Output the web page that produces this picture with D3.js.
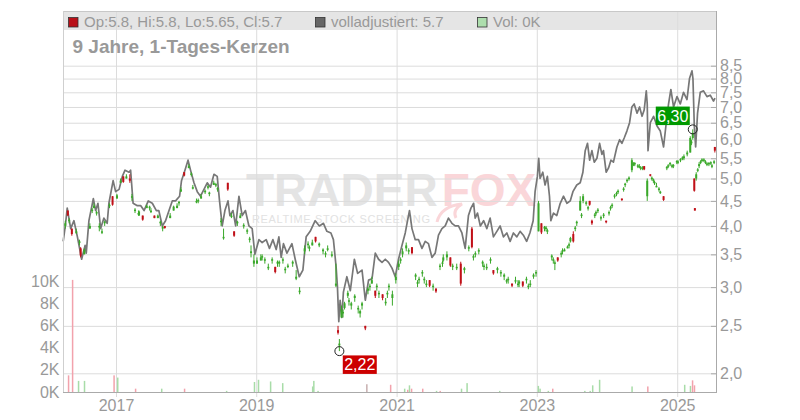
<!DOCTYPE html>
<html><head><meta charset="utf-8">
<script src="https://cdn.jsdelivr.net/npm/d3@7"></script>
<style>
html,body{margin:0;padding:0;background:#fff;}
svg{display:block;font-family:"Liberation Sans",Arial,sans-serif;}
</style></head><body>
<svg id="chart" width="800" height="420"></svg>
<script>
// ---------- DATA ----------
const adjDates = ["2016-04-01","2016-04-12","2016-04-22","2016-05-10","2016-05-27","2016-06-14","2016-07-06","2016-07-24","2016-07-30","2016-08-13","2016-09-05","2016-09-17","2016-09-29","2016-10-13","2016-10-30","2016-11-16","2016-11-25","2016-12-17","2016-12-30","2017-01-17","2017-02-03","2017-02-17","2017-03-10","2017-03-18","2017-03-31","2017-04-22","2017-05-10","2017-05-27","2017-06-18","2017-07-09","2017-07-30","2017-08-12","2017-08-30","2017-09-16","2017-10-04","2017-10-21","2017-11-07","2017-11-28","2017-12-08","2017-12-26","2018-01-11","2018-01-24","2018-02-11","2018-02-28","2018-03-17","2018-04-04","2018-04-21","2018-05-08","2018-05-26","2018-06-12","2018-06-24","2018-07-08","2018-07-22","2018-08-07","2018-08-17","2018-09-02","2018-09-16","2018-10-03","2018-10-20","2018-11-06","2018-11-24","2018-12-11","2018-12-25","2019-01-15","2019-02-01","2019-02-22","2019-03-11","2019-03-29","2019-04-15","2019-04-29","2019-05-11","2019-05-23","2019-06-10","2019-07-06","2019-07-23","2019-08-13","2019-09-01","2019-09-18","2019-10-09","2019-11-04","2019-11-26","2019-12-17","2020-01-04","2020-01-25","2020-02-07","2020-02-21","2020-02-28","2020-03-06","2020-03-13","2020-03-22","2020-03-30","2020-04-17","2020-05-05","2020-05-26","2020-06-12","2020-07-05","2020-07-22","2020-08-08","2020-08-26","2020-09-12","2020-09-29","2020-10-17","2020-11-03","2020-11-20","2020-12-08","2020-12-25","2021-01-11","2021-01-29","2021-02-15","2021-02-27","2021-03-09","2021-03-22","2021-04-08","2021-04-25","2021-05-13","2021-05-30","2021-06-16","2021-07-04","2021-07-21","2021-08-07","2021-08-25","2021-09-11","2021-09-28","2021-10-16","2021-11-02","2021-11-19","2021-12-07","2021-12-24","2022-01-10","2022-01-23","2022-02-06","2022-02-14","2022-02-26","2022-03-13","2022-03-30","2022-04-16","2022-05-03","2022-05-20","2022-06-07","2022-06-24","2022-07-11","2022-07-29","2022-08-15","2022-09-01","2022-09-19","2022-10-06","2022-10-23","2022-11-09","2022-11-26","2022-12-13","2022-12-23","2023-01-04","2023-01-11","2023-01-18","2023-02-01","2023-02-13","2023-02-25","2023-03-08","2023-03-15","2023-03-29","2023-04-15","2023-05-03","2023-05-20","2023-06-07","2023-06-24","2023-07-08","2023-07-28","2023-08-15","2023-08-29","2023-09-10","2023-09-22","2023-10-03","2023-10-15","2023-10-27","2023-11-10","2023-11-24","2023-12-06","2023-12-14","2023-12-28","2024-01-09","2024-01-22","2024-02-04","2024-02-22","2024-03-07","2024-03-19","2024-03-31","2024-04-14","2024-04-28","2024-05-10","2024-05-22","2024-06-06","2024-06-19","2024-07-02","2024-07-13","2024-07-24","2024-07-29","2024-08-02","2024-08-14","2024-08-31","2024-09-18","2024-10-05","2024-10-22","2024-11-05","2024-11-17","2024-11-29","2024-12-13","2024-12-31","2025-01-17","2025-02-03","2025-02-21","2025-03-06","2025-03-19","2025-03-24","2025-03-31","2025-04-07","2025-04-17","2025-05-01","2025-05-18","2025-06-05","2025-06-22","2025-07-09","2025-07-17"];
const adjValues = [3.72,4.0,4.35,3.95,4.1,3.8,3.42,3.65,3.52,4.1,4.55,4.3,4.45,3.95,4.15,4.05,4.45,4.95,4.7,4.75,5.05,5.2,5.15,5.2,4.45,4.4,4.4,4.3,4.5,4.45,4.3,4.3,4.0,4.1,4.3,4.5,4.5,4.6,4.95,5.2,5.45,5.2,4.9,4.7,4.6,4.75,4.9,4.8,5.1,5.05,4.5,4.0,4.3,4.5,4.2,4.3,4.0,4.6,4.2,4.3,4.0,3.95,3.5,3.75,3.7,3.75,3.6,3.75,3.58,3.8,3.45,3.68,3.52,3.68,3.42,3.15,3.25,3.8,3.9,4.1,4.0,4.05,3.9,3.87,3.75,3.3,3.0,2.55,2.82,2.6,2.93,3.15,2.95,3.42,3.2,3.25,2.82,3.1,3.12,3.52,3.42,3.37,3.42,3.37,3.28,3.15,3.42,3.65,3.87,4.1,4.3,3.95,3.75,3.75,3.6,3.72,3.68,3.45,3.52,3.83,3.95,4.0,4.15,4.05,4.0,4.0,3.87,3.6,4.2,4.35,4.45,4.15,4.25,4.0,4.1,3.95,4.15,3.8,3.9,4.0,3.8,3.87,3.72,3.87,3.8,3.9,3.83,3.72,3.87,4.1,4.7,5.05,5.5,5.0,5.15,4.85,5.05,4.6,4.1,4.25,4.2,4.45,4.6,4.45,4.5,4.7,4.85,4.9,5.15,5.7,5.9,5.45,5.7,5.4,5.5,5.9,5.6,5.7,5.15,5.25,5.45,5.4,5.8,6.0,5.9,6.05,6.25,6.5,7.0,7.1,6.8,7.0,6.7,6.9,7.55,7.1,5.7,6.5,6.7,6.4,6.25,5.8,6.5,7.1,7.6,7.0,7.35,7.1,7.5,7.25,8.0,8.3,8.0,6.4,5.8,6.8,7.5,7.55,7.35,7.4,7.2,7.3];

// candles: [date, open, high, low, close]
const candles = [
["2016-04-12",4.0,4.1,3.95,4.05],["2016-04-25",4.3,4.3,4.2,4.2],["2016-05-02",4.1,4.15,4.05,4.12],["2016-05-16",3.95,3.95,3.82,3.85],["2016-06-08",3.88,3.95,3.85,3.9],
["2016-06-25",3.7,3.75,3.65,3.72],["2016-07-01",3.6,3.62,3.45,3.48],["2016-07-20",3.5,3.6,3.5,3.58],["2016-08-18",3.95,4.05,3.95,4.0],["2016-08-30",4.3,4.35,4.25,4.32],["2016-09-08",4.35,4.45,4.35,4.4],
["2016-09-22",4.25,4.3,4.2,4.27],["2016-10-06",3.98,4.05,3.9,4.0],["2016-10-20",3.88,3.95,3.85,3.9],["2016-11-03",4.05,4.1,4.0,4.08],["2016-11-28",4.4,4.45,4.35,4.42],
["2016-12-14",4.6,4.6,4.4,4.42],["2017-01-06",4.55,4.65,4.55,4.62],["2017-01-25",4.9,5.0,4.9,4.95],["2017-02-08",5.05,5.05,4.9,4.92],["2017-02-24",5.0,5.1,5.0,5.05],
["2017-03-14",5.0,5.1,4.9,4.95],["2017-03-25",4.6,4.65,4.5,4.6],["2017-04-10",4.3,4.35,4.25,4.32],["2017-04-28",4.25,4.3,4.2,4.25],["2017-05-01",4.2,4.3,4.2,4.28],["2017-05-20",4.2,4.2,4.1,4.12],
["2017-06-10",4.35,4.42,4.35,4.4],["2017-06-25",4.35,4.4,4.3,4.38],["2017-07-02",4.28,4.35,4.25,4.3],["2017-07-20",4.2,4.2,4.15,4.15],["2017-08-07",4.15,4.22,4.15,4.2],["2017-08-20",4.05,4.1,4.0,4.08],
["2017-09-01",3.95,4.0,3.9,3.98],["2017-09-12",4.0,4.0,3.95,3.96],["2017-10-10",4.15,4.25,4.15,4.2],["2017-10-28",4.3,4.4,4.3,4.38],
["2017-11-15",4.35,4.45,4.35,4.4],["2017-11-25",4.45,4.5,4.4,4.48],["2017-12-05",4.7,4.8,4.7,4.75],["2017-12-22",5.15,5.15,5.05,5.07],["2018-01-15",5.25,5.35,5.25,5.3],["2018-01-28",5.1,5.15,5.05,5.12],
["2018-02-05",4.78,4.85,4.75,4.8],["2018-02-24",4.48,4.55,4.45,4.5],["2018-03-05",4.5,4.55,4.45,4.52],["2018-03-20",4.55,4.65,4.55,4.6],["2018-04-10",4.7,4.75,4.65,4.72],["2018-04-25",4.8,4.85,4.75,4.82],
["2018-05-02",4.65,4.7,4.6,4.68],["2018-05-25",4.85,4.95,4.85,4.9],["2018-06-05",4.85,4.9,4.8,4.87],["2018-06-14",4.75,4.8,4.7,4.78],["2018-07-02",4.08,4.15,4.0,4.1],
["2018-07-15",3.78,3.95,3.75,3.8],["2018-08-06",4.9,4.9,4.72,4.75],["2018-08-25",4.18,4.25,4.15,4.2],["2018-09-08",3.9,3.9,3.8,3.82],
["2018-09-25",4.05,4.1,4.0,4.08],["2018-10-10",4.15,4.25,4.15,4.2],["2018-10-28",4.0,4.05,3.95,4.02],["2018-11-15",3.9,3.95,3.85,3.92],["2018-11-28",3.75,3.8,3.7,3.77],
["2018-12-05",3.52,3.65,3.45,3.55],["2018-12-20",3.35,3.5,3.3,3.4],["2019-01-05",3.35,3.45,3.35,3.4],["2019-01-25",3.4,3.5,3.4,3.45],["2019-02-01",3.45,3.5,3.4,3.47],
["2019-02-15",3.4,3.45,3.35,3.42],["2019-03-05",3.28,3.35,3.25,3.3],["2019-03-25",3.4,3.45,3.35,3.42],["2019-04-10",3.3,3.3,3.2,3.22],["2019-04-22",3.35,3.4,3.3,3.38],
["2019-05-01",3.35,3.4,3.3,3.38],["2019-05-20",3.4,3.45,3.35,3.42],["2019-06-01",3.25,3.3,3.2,3.27],["2019-06-15",3.3,3.35,3.28,3.32],["2019-07-10",3.35,3.4,3.3,3.38],
["2019-07-28",3.12,3.25,3.1,3.15],["2019-08-15",2.93,3.0,2.9,2.95],["2019-09-10",3.55,3.65,3.5,3.6],["2019-09-28",3.66,3.72,3.6,3.68],["2019-10-05",3.6,3.65,3.55,3.62],
["2019-10-20",3.65,3.75,3.65,3.7],["2019-11-06",3.8,3.8,3.7,3.72],["2019-11-25",3.65,3.7,3.62,3.68],["2019-12-15",3.55,3.6,3.5,3.58],["2019-12-28",3.5,3.55,3.45,3.52],
["2020-01-08",3.58,3.65,3.55,3.6],["2020-01-30",3.48,3.55,3.45,3.5],["2020-02-20",3.02,3.35,3.0,3.05],["2020-03-02",2.45,2.5,2.4,2.42],
["2020-03-09",2.28,2.35,2.22,2.3],["2020-03-20",2.6,2.75,2.6,2.7],["2020-03-28",2.65,2.7,2.6,2.67],["2020-04-05",2.72,2.8,2.7,2.78],["2020-04-22",2.88,2.95,2.85,2.92],["2020-04-28",2.8,2.85,2.75,2.82],
["2020-05-10",2.75,2.8,2.7,2.78],["2020-05-28",2.85,2.9,2.8,2.88],["2020-06-15",2.7,2.75,2.65,2.72],["2020-06-25",2.65,2.7,2.6,2.68],["2020-07-05",2.75,2.8,2.7,2.78],
["2020-07-22",2.5,2.5,2.45,2.47],["2020-08-05",2.95,3.0,2.9,2.98],["2020-08-15",3.0,3.05,2.95,3.02],["2020-08-25",3.05,3.15,3.05,3.1],["2020-09-12",2.95,2.95,2.85,2.88],["2020-09-20",3.0,3.05,2.95,3.02],
["2020-10-01",2.9,2.95,2.85,2.92],["2020-10-20",2.9,2.9,2.82,2.85],["2020-11-05",2.78,2.85,2.75,2.8],["2020-11-14",2.9,2.95,2.85,2.92],["2020-11-22",3.0,3.05,2.95,3.02],
["2020-12-10",2.85,2.95,2.75,2.9],["2020-12-28",3.1,3.2,3.05,3.15],["2021-01-12",3.3,3.4,3.25,3.35],["2021-01-22",3.4,3.45,3.35,3.42],["2021-02-01",3.5,3.6,3.45,3.55],
["2021-02-20",3.6,3.7,3.55,3.65],["2021-03-05",3.55,3.6,3.5,3.57],["2021-03-22",3.62,3.62,3.5,3.52],["2021-04-10",3.15,3.2,3.1,3.18],["2021-04-20",3.05,3.1,3.0,3.07],["2021-04-28",3.1,3.15,3.05,3.12],
["2021-05-15",3.2,3.25,3.15,3.22],["2021-05-25",3.1,3.15,3.05,3.12],["2021-06-05",3.03,3.1,3.0,3.05],["2021-06-22",3.1,3.1,3.0,3.02],["2021-07-10",3.0,3.05,2.95,3.02],
["2021-07-25",2.98,2.98,2.92,2.94],["2021-08-15",3.3,3.35,3.25,3.32],["2021-08-28",3.35,3.4,3.3,3.37],["2021-09-01",3.4,3.5,3.38,3.45],["2021-09-20",3.45,3.55,3.4,3.5],
["2021-10-08",3.45,3.45,3.3,3.32],["2021-10-20",3.3,3.35,3.25,3.32],["2021-11-10",3.28,3.35,3.25,3.3],["2021-12-01",3.35,3.38,3.02,3.05],["2021-12-20",3.25,3.3,3.2,3.28],
["2022-01-12",3.6,3.65,3.55,3.62],["2022-01-28",3.95,3.98,3.6,3.62],["2022-02-05",3.45,3.5,3.4,3.47],["2022-02-15",3.5,3.55,3.45,3.52],["2022-03-05",3.55,3.6,3.5,3.57],
["2022-03-25",3.35,3.4,3.3,3.38],["2022-04-01",3.3,3.35,3.25,3.32],["2022-04-15",3.28,3.35,3.25,3.3],["2022-05-05",3.4,3.45,3.35,3.42],["2022-05-20",3.25,3.25,3.18,3.2],
["2022-06-10",3.25,3.3,3.2,3.28],["2022-06-28",3.2,3.25,3.15,3.22],["2022-07-15",3.15,3.2,3.1,3.18],["2022-07-28",3.08,3.12,3.05,3.1],["2022-08-05",3.1,3.15,3.05,3.12],
["2022-08-25",3.05,3.05,3.0,3.02],["2022-09-12",3.08,3.15,3.05,3.1],["2022-09-25",3.05,3.1,3.0,3.05],["2022-10-01",3.05,3.1,3.0,3.08],["2022-10-20",3.08,3.08,3.0,3.02],
["2022-11-08",3.1,3.15,3.05,3.12],["2022-11-18",3.0,3.05,2.97,3.02],["2022-11-28",3.03,3.1,3.0,3.05],["2022-12-15",3.15,3.2,3.12,3.18],["2022-12-28",3.2,3.25,3.15,3.22],
["2023-01-10",3.9,4.5,3.9,4.45],["2023-01-25",4.05,4.05,3.85,3.88],["2023-02-10",3.95,4.0,3.9,3.98],["2023-02-18",3.95,4.0,3.9,3.97],["2023-02-25",3.9,3.95,3.85,3.92],
["2023-03-20",3.45,3.5,3.4,3.48],["2023-03-28",3.4,3.45,3.35,3.42],["2023-04-05",3.35,3.4,3.25,3.37],["2023-04-20",3.45,3.45,3.38,3.4],["2023-05-08",3.5,3.55,3.45,3.52],["2023-05-15",3.55,3.6,3.5,3.57],
["2023-05-25",3.55,3.6,3.55,3.58],["2023-06-10",3.6,3.65,3.6,3.63],["2023-06-18",3.65,3.7,3.6,3.67],["2023-06-25",3.72,3.8,3.7,3.78],["2023-07-10",3.85,3.9,3.7,3.72],["2023-07-20",3.95,4.0,3.9,3.97],
["2023-07-28",4.05,4.1,4.0,4.08],["2023-08-15",4.3,4.6,4.3,4.5],["2023-08-22",4.2,4.25,4.15,4.22],["2023-08-30",4.5,4.65,4.45,4.6],["2023-09-15",4.45,4.5,4.4,4.47],["2023-09-25",4.35,4.4,4.3,4.37],
["2023-10-03",4.5,4.5,4.4,4.42],["2023-10-15",4.1,4.12,4.02,4.05],["2023-10-30",4.2,4.25,4.15,4.22],["2023-11-05",4.25,4.3,4.2,4.27],["2023-11-15",4.3,4.35,4.25,4.32],
["2023-12-01",4.15,4.2,4.1,4.17],["2023-12-15",4.2,4.25,4.15,4.22],["2023-12-28",4.1,4.1,4.05,4.07],["2024-01-12",4.25,4.3,4.2,4.27],["2024-01-20",4.35,4.4,4.3,4.37],["2024-01-28",4.4,4.45,4.35,4.42],
["2024-02-10",4.6,4.65,4.55,4.62],["2024-02-20",4.65,4.7,4.6,4.67],["2024-02-28",4.7,4.75,4.65,4.72],["2024-03-19",4.55,4.55,4.5,4.52],["2024-03-28",4.75,4.8,4.7,4.77],["2024-04-05",4.85,4.9,4.8,4.88],
["2024-04-15",4.95,5.0,4.9,4.97],["2024-04-25",5.0,5.05,4.95,5.02],["2024-05-10",5.2,5.5,5.15,5.45],["2024-05-18",5.35,5.4,5.3,5.37],["2024-05-25",5.35,5.4,5.3,5.38],["2024-06-10",5.3,5.35,5.25,5.32],
["2024-06-18",5.3,5.35,5.25,5.3],["2024-06-25",5.25,5.3,5.2,5.27],["2024-07-05",5.25,5.3,5.2,5.27],["2024-07-13",5.3,5.3,5.2,5.22],["2024-07-29",4.6,5.0,4.5,4.95],["2024-08-14",5.1,5.1,5.05,5.07],
["2024-08-22",5.0,5.05,4.95,5.02],["2024-08-30",4.95,5.0,4.9,4.98],["2024-09-05",4.9,4.95,4.85,4.92],["2024-09-15",4.8,4.9,4.8,4.83],["2024-09-28",4.75,4.8,4.7,4.77],["2024-10-05",4.68,4.72,4.65,4.7],["2024-10-22",4.6,4.6,4.5,4.52],
["2024-11-08",5.25,5.3,5.2,5.28],["2024-11-15",5.3,5.35,5.25,5.32],["2024-11-25",5.35,5.4,5.3,5.38],["2024-12-05",5.3,5.35,5.25,5.32],["2024-12-12",5.3,5.35,5.25,5.33],["2024-12-30",5.4,5.45,5.35,5.43],
["2025-01-05",5.4,5.45,5.35,5.42],["2025-01-18",5.45,5.5,5.4,5.48],["2025-01-28",5.5,5.55,5.45,5.52],["2025-02-05",5.5,5.6,5.45,5.55],["2025-02-22",5.6,5.7,5.55,5.65],["2025-03-10",5.65,6.1,5.65,6.05],
["2025-03-16",5.9,6.0,5.85,5.95],["2025-03-23",6.05,6.3,6.0,6.2],["2025-03-31",5.0,5.0,4.7,4.72],["2025-04-03",4.35,4.35,4.3,4.3],["2025-04-10",5.0,5.15,4.95,5.1],["2025-04-18",5.2,5.25,5.15,5.22],
["2025-04-25",5.3,5.4,5.25,5.35],["2025-05-03",5.4,5.45,5.35,5.42],["2025-05-10",5.45,5.5,5.4,5.47],["2025-05-20",5.45,5.5,5.4,5.47],["2025-05-28",5.4,5.45,5.35,5.42],["2025-06-05",5.35,5.4,5.3,5.37],
["2025-06-15",5.35,5.4,5.3,5.38],["2025-06-25",5.38,5.42,5.33,5.4],["2025-07-01",5.3,5.35,5.25,5.32],["2025-07-12",5.4,5.45,5.35,5.42],["2025-07-16",5.8,5.8,5.65,5.7]
];

// volume (thousands) with direction: u = up, d = down, n = unchanged
const volDates = ["2016-04-29","2016-05-20","2016-06-20","2016-07-21","2016-12-22","2017-01-10","2017-04-13","2017-08-27","2017-12-24","2018-07-31","2018-12-23","2019-01-13","2019-03-17","2019-05-19","2019-10-22","2019-10-28","2019-11-19","2020-07-30","2020-12-01","2021-02-12","2021-02-28","2021-03-09","2021-03-20","2021-05-17","2021-07-28","2021-08-16","2021-12-05","2022-01-03","2022-06-22","2023-01-09","2023-01-18","2023-03-02","2023-03-25","2023-09-08","2023-10-06","2023-10-19","2023-11-24","2024-05-11","2024-08-01","2025-02-09","2025-03-11","2025-03-22","2025-04-01"];
const volValues = [1.5,10.1,1.0,1.0,1.5,1.3,0.3,0.3,0.3,0.1,0.9,1.1,0.95,0.8,0.5,1.0,0.1,0.7,0.65,0.3,0.2,0.6,0.3,0.3,0.1,0.1,0.3,0.8,0.1,0.55,0.3,0.1,0.3,0.1,0.1,0.6,1.1,0.5,0.5,0.65,0.55,1.05,0.6];
const volDir = ["d","d","u","u","d","u","d","u","d","u","u","u","u","u","u","u","u","n","d","u","d","u","d","d","u","d","u","u","u","u","u","u","d","u","u","u","u","u","d","u","u","d","d"];

const priceTicks = [2.0,2.5,3.0,3.5,4.0,4.5,5.0,5.5,6.0,6.5,7.0,7.5,8.0,8.5];
const volTicks = [0,2,4,6,8,10];
const yearTicks = [2017,2019,2021,2023,2025];
const legendLabels = ["Op:5.8, Hi:5.8, Lo:5.65, Cl:5.7","volladjustiert: 5.7","Vol: 0K"];
const titleText = "9 Jahre, 1-Tages-Kerzen";
const minMark = {date:"2020-03-09", value:2.22, label:"2,22"};
const maxMark = {date:"2025-03-23", value:6.30, label:"6,30"};

// ---------- DRAW ----------
const parse = d3.timeParse("%Y-%m-%d");
const L = 63, R = 716, T = 11, B = 392;
const svg = d3.select("#chart");
const FONT = "Liberation Sans, Arial, sans-serif";

const x = d3.scaleTime().domain([parse("2016-03-31"), parse("2025-07-22")]).range([L, R]);
const y = d3.scaleLog().domain([2, 8.5]).range([373.3, 65.7]);
const yv = d3.scaleLinear().domain([0, 10]).range([B, 281]);
const comma = d => d3.format(".1f")(d).replace(".", ",");

const C = {grid:"#dcdcdc", axis:"#aaaaaa", text:"#999999", up:"#3aa82a", down:"#c01018",
           line:"#777777", volUp:"#a8dca8", volDown:"#f2a2ac", volN:"#c8b0b0"};

// header band
svg.append("rect").attr("x", L).attr("y", T).attr("width", R - L).attr("height", 19).attr("fill", "#e5e5e5");

// watermark
const wm = svg.append("g");
const wt = wm.append("text").attr("x", 246).attr("y", 206).attr("font-size", 46).attr("font-weight", "bold");
wt.append("tspan").attr("fill", "#e4e4e4").text("TRADER");
wt.append("tspan").attr("fill", "#fad6d9").attr("dx", 4).text("FOX");
wm.append("text").attr("x", 252).attr("y", 223).attr("font-size", 11).attr("fill", "#e2e2e2")
  .attr("textLength", 178).attr("lengthAdjust", "spacing").text("REALTIME STOCK SCREENING");
wm.append("path").attr("d", "M437,222 Q441,206 462,204 Q452,210 456,218").attr("fill", "none")
  .attr("stroke", "#fad6d9").attr("stroke-width", 3);

// horizontal grid
svg.append("g").attr("transform", `translate(${R},0)`)
  .call(d3.axisLeft(y).tickValues(priceTicks).tickSize(R - L).tickFormat(""))
  .call(g => g.select(".domain").remove())
  .call(g => g.selectAll("line").attr("stroke", C.grid));

// vertical grid
const yearDates = yearTicks.map(yy => new Date(yy, 0, 1));
svg.append("g").attr("transform", `translate(0,${B})`)
  .call(d3.axisTop(x).tickValues(yearDates).tickSize(B - T).tickFormat(""))
  .call(g => g.select(".domain").remove())
  .call(g => g.selectAll("line").attr("stroke", C.grid));

// header top border
svg.append("line").attr("x1", L).attr("x2", R).attr("y1", T + 0.5).attr("y2", T + 0.5).attr("stroke", "#c8c8c8");

// volume bars
const vols = volDates.map((d, i) => ({date: parse(d), v: volValues[i], dir: volDir[i]}));
svg.append("g").selectAll("rect").data(vols).join("rect")
  .attr("x", d => x(d.date) - 0.75).attr("width", 1.5)
  .attr("y", d => yv(d.v)).attr("height", d => B - yv(d.v))
  .attr("fill", d => d.dir === "u" ? C.volUp : d.dir === "d" ? C.volDown : C.volN);

// adjusted line
const adj = adjDates.map((d, i) => ({date: parse(d), v: adjValues[i]}));
svg.append("path").datum(adj)
  .attr("fill", "none").attr("stroke", C.line).attr("stroke-width", 1.7).attr("stroke-linejoin", "round")
  .attr("d", d3.line().x(d => x(d.date)).y(d => y(d.v)));

// candles
const cd = candles.map(c => ({date: parse(c[0]), o: c[1], h: c[2], l: c[3], c: c[4]}));
const cg = svg.append("g").selectAll("g").data(cd).join("g");
cg.append("line")
  .attr("x1", d => x(d.date)).attr("x2", d => x(d.date))
  .attr("y1", d => y(d.h)).attr("y2", d => y(d.l))
  .attr("stroke", d => d.c >= d.o ? C.up : C.down).attr("stroke-width", 1);
cg.append("rect")
  .attr("x", d => x(d.date) - 1).attr("width", 2)
  .attr("y", d => Math.min(y(d.o), y(d.c)))
  .attr("height", d => Math.max(1.5, Math.abs(y(d.o) - y(d.c))))
  .attr("fill", d => d.c >= d.o ? C.up : C.down);

// frame left
svg.append("line").attr("x1", L + 0.5).attr("x2", L + 0.5).attr("y1", T).attr("y2", B).attr("stroke", "#cfcfcf");

// right price axis
svg.append("g").attr("transform", `translate(${R},0)`)
  .call(d3.axisRight(y).tickValues(priceTicks).tickSize(-5).tickPadding(4).tickFormat(comma))
  .call(g => g.select(".domain").remove())
  .call(g => g.selectAll("line").attr("stroke", C.axis))
  .call(g => g.selectAll("text").attr("fill", C.text).attr("font-size", 16).attr("font-family", FONT));
svg.append("line").attr("x1", R + 0.5).attr("x2", R + 0.5).attr("y1", T).attr("y2", B).attr("stroke", C.axis);

// left volume axis
svg.append("g").attr("transform", `translate(${L},0)`)
  .call(d3.axisLeft(yv).tickValues(volTicks).tickSize(0).tickPadding(3.5).tickFormat(d => d + "K"))
  .call(g => g.select(".domain").remove())
  .call(g => g.selectAll("text").attr("fill", C.text).attr("font-size", 16).attr("font-family", FONT));

// bottom time axis
svg.append("g").attr("transform", `translate(0,${B})`)
  .call(d3.axisBottom(x).tickValues(yearDates).tickSize(5).tickPadding(3).tickFormat(d3.timeFormat("%Y")))
  .call(g => g.select(".domain").remove())
  .call(g => g.selectAll("line").attr("stroke", C.grid))
  .call(g => g.selectAll("text").attr("fill", C.text).attr("font-size", 16).attr("font-family", FONT));
svg.append("line").attr("x1", L).attr("x2", R + 1).attr("y1", B + 0.5).attr("y2", B + 0.5).attr("stroke", C.axis);

// legend
const legendColors = ["#b81018", "#666666", "#addead"];
const legendX = [68.5, 315.5, 477.5];
legendLabels.forEach((t, i) => {
  svg.append("rect").attr("x", legendX[i]).attr("y", 17.5).attr("width", 9.5).attr("height", 9.5)
    .attr("fill", legendColors[i]).attr("stroke", "#333").attr("stroke-width", 0.8);
  svg.append("text").attr("x", legendX[i] + 15.5).attr("y", 27).attr("font-size", 15).attr("fill", C.text).text(t);
});

// title
svg.append("text").attr("x", 72.5).attr("y", 53).attr("font-size", 19).attr("font-weight", "bold")
  .attr("fill", "#999").text(titleText);

// annotations
function mark(m, below) {
  const cx = x(parse(m.date)), cy = y(m.value);
  svg.append("circle").attr("cx", cx).attr("cy", cy).attr("r", 4.5)
    .attr("fill", "none").attr("stroke", "#222").attr("stroke-width", 1);
  const bw = 34, bh = 18.5;
  const bx = below ? cx + 3.4 : cx - 3 - bw;
  const by = below ? cy + 4.3 : cy - 4.3 - bh;
  svg.append("rect").attr("x", bx).attr("y", by).attr("width", bw).attr("height", bh)
    .attr("fill", below ? "#cc0000" : "#009900");
  svg.append("text").attr("x", bx + bw / 2).attr("y", by + bh / 2).attr("dy", "0.36em")
    .attr("text-anchor", "middle").attr("font-size", 16).attr("fill", "#fff").text(m.label);
}
mark(minMark, true);
mark(maxMark, false);
</script>
</body></html>
